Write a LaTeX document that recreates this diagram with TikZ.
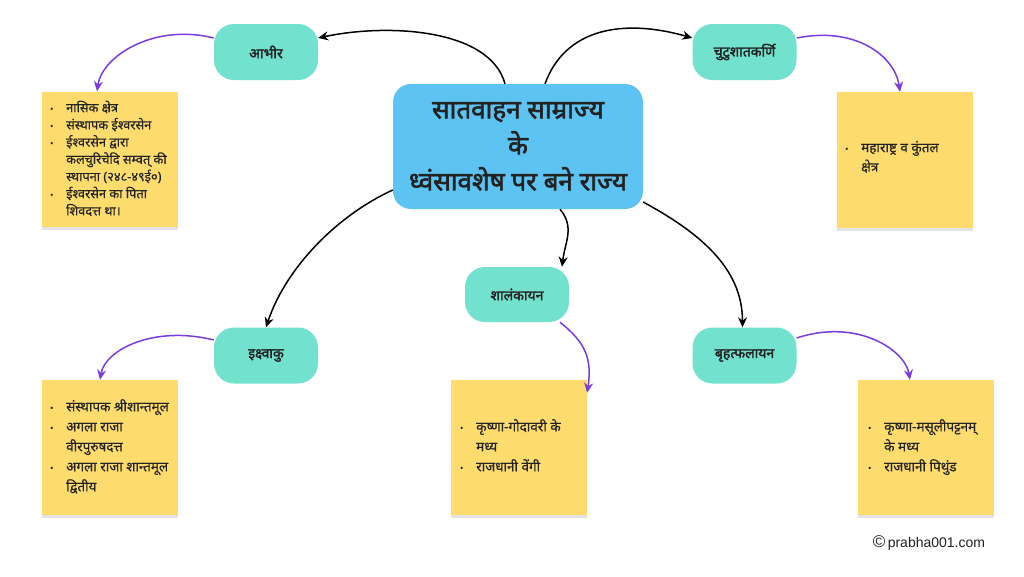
\documentclass[tikz,border=0pt]{standalone}
\usepackage{fontspec}
\setmainfont{Noto Sans}[Script=Devanagari]
\newfontfamily\boldhindi{Noto Sans}[Script=Devanagari, FakeBold=2.2]
\newfontfamily\medhindi{Noto Sans}[Script=Devanagari, FakeBold=0.3]
\newfontfamily\latinfont{Liberation Sans}
\usetikzlibrary{arrows.meta,shadows}
\definecolor{cblue}{HTML}{5DC3F3}
\definecolor{cteal}{HTML}{72E1CE}
\definecolor{cnote}{HTML}{FDDC6D}
\definecolor{cpurple}{HTML}{7A3BE0}
\definecolor{ctext}{HTML}{222222}
\newcommand{\bul}{\makebox[16pt][l]{\raisebox{0.5pt}{\footnotesize\textbullet}}}
\newcommand{\ind}{\hspace*{16pt}}
\newcommand{\fst}{\rule{0pt}{12pt}}
\begin{document}
\begin{tikzpicture}[x=1pt,y=-1pt,
  mainbox/.style={fill=cblue, rounded corners=18pt, minimum width=250pt, minimum height=125pt, inner sep=0pt, text=ctext, font=\boldhindi\fontsize{26}{36}\selectfont, align=center},
  topic/.style={fill=cteal, rounded corners=20pt, minimum width=104pt, minimum height=56pt, inner sep=0pt, text=ctext, font=\boldhindi\fontsize{14}{16}\selectfont},
  note/.style={fill=cnote, minimum width=136pt, minimum height=135pt, inner sep=0pt, drop shadow={shadow xshift=0pt, shadow yshift=-3pt, opacity=0.22}},
  notetext/.style={anchor=north west, inner sep=0pt, align=left, text=ctext},
  blackarrow/.style={draw=black, line width=1.5pt, -{Stealth[length=10pt,width=9pt]}},
  purplearrow/.style={draw=cpurple, line width=1.5pt, -{Stealth[length=10pt,width=9pt]}}
]
\useasboundingbox (0,0) rectangle (1024,576);
\fill[white] (0,0) rectangle (1024,576);

% notes
\node[note] (n1) at (110,159) {};
\node[note, minimum height=136pt] (n2) at (905,160) {};
\node[note] (n3) at (110,447.5) {};
\node[note] (n4) at (519,447.5) {};
\node[note] (n5) at (926,447.5) {};

\node[notetext, font=\medhindi\fontsize{12.8}{17.2}\selectfont] (t1) at (50,100) {\fst\bul नासिक क्षेत्र\\\bul संस्थापक ईश्वरसेन\\\bul ईश्वरसेन द्वारा\\\ind कलचुरिचेदि सम्वत् की\\\ind स्थापना (२४८-४९ई०)\\\bul ईश्वरसेन का पिता\\\ind शिवदत्त था।};
\node[notetext, font=\medhindi\fontsize{13.5}{19.5}\selectfont] (t2) at (845,140) {\fst\bul महाराष्ट्र व कुंतल\\\ind क्षेत्र};
\node[notetext, font=\medhindi\fontsize{13.5}{20}\selectfont] (t3) at (50,399) {\fst\bul संस्थापक श्रीशान्तमूल\\\bul अगला राजा\\\ind वीरपुरुषदत्त\\\bul अगला राजा शान्तमूल\\\ind द्वितीय};
\node[notetext, font=\medhindi\fontsize{13.5}{20}\selectfont] (t4) at (460,419) {\fst\bul कृष्णा-गोदावरी के\\\ind मध्य\\\bul राजधानी वेंगी};
\node[notetext, font=\medhindi\fontsize{13.5}{20}\selectfont] (t5) at (868,419) {\fst\bul कृष्णा-मसूलीपट्टनम्\\\ind के मध्य\\\bul राजधानी पिथुंड};

% central and topics
\node[mainbox] (c) at (518,146.5) {सातवाहन साम्राज्य\\के\\ध्वंसावशेष पर बने राज्य};
\node[topic] (a) at (266,52) {आभीर};
\node[topic] (b) at (744.5,52) {चुटुशातकर्णि};
\node[topic] (d) at (266,355.5) {इक्ष्वाकु};
\node[topic, minimum height=55pt] (e) at (517,294.5) {शालंकायन};
\node[topic] (f) at (744.5,355.5) {बृहत्फलायन};

% black arrows
\draw[blackarrow] ([xshift=-13pt]c.north) .. controls +(-15,-55) and +(70,-15) .. (a.east |- 0,38);
\draw[blackarrow] ([xshift=27pt]c.north) .. controls +(20,-55) and +(-70,-20) .. (b.west |- 0,38);
\draw[blackarrow] (c.south west |- 0,190) .. controls +(-55,25) and +(20,-60) .. (d.north);
\draw[blackarrow] ([xshift=42pt]c.south) .. controls +(15,18) and +(3,-25) .. ([xshift=45pt]e.north);
\draw[blackarrow] (c.south east |- 0,202) .. controls +(55,30) and +(0,-60) .. ([xshift=-2pt]f.north);

% purple arrows
\draw[purplearrow] (a.west |- 0,38) .. controls +(-60,-15) and +(5,-35) .. ([xshift=-13pt]n1.north);
\draw[purplearrow] (b.east |- 0,38) .. controls +(60,-12) and +(-5,-35) .. ([xshift=-5pt]n2.north);
\draw[purplearrow] (d.west |- 0,340) .. controls +(-60,-15) and +(5,-30) .. ([xshift=-10pt]n3.north);
\draw[purplearrow] ([xshift=43pt]e.south) .. controls +(25,20) and +(5,-35) .. ([yshift=-13pt]n4.north east);
\draw[purplearrow] (f.east |- 0,338) .. controls +(60,-20) and +(-5,-30) .. ([xshift=-16pt]n5.north);

% watermark
\node[inner sep=0pt, text=ctext, font=\latinfont\fontsize{14}{16}\selectfont] (w) at (929,543) {{\fontsize{17}{16}\selectfont©}\,prabha001.com};
\end{tikzpicture}
\end{document}
